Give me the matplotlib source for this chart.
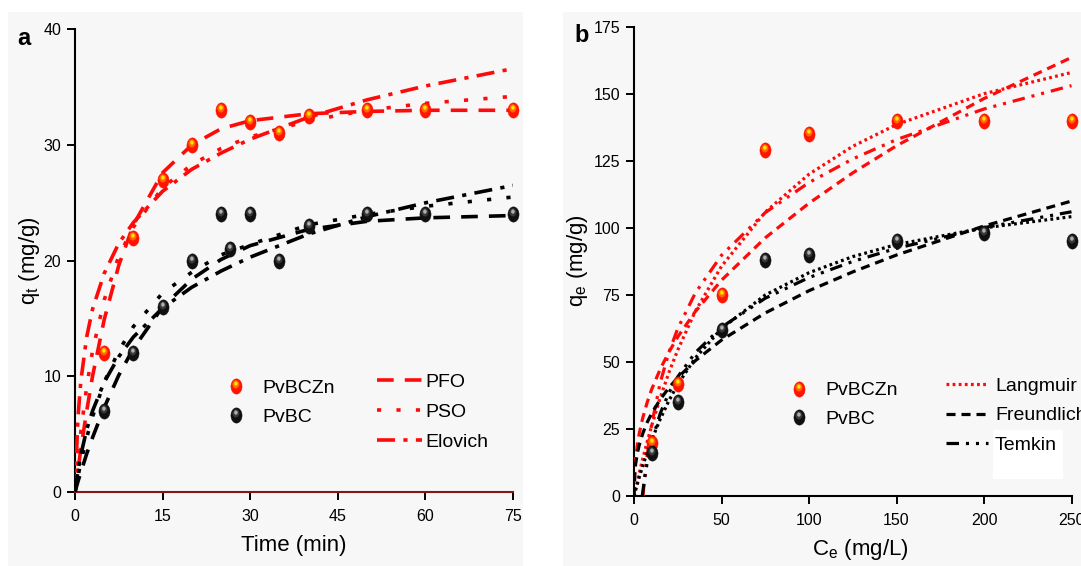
import matplotlib
matplotlib.use("Agg")
import numpy as np
import matplotlib.pyplot as plt
from matplotlib.lines import Line2D
from matplotlib.patches import Rectangle
from matplotlib.path import Path
from matplotlib.legend_handler import HandlerTuple
from matplotlib import font_manager

# ---------------- data: panel a (kinetics) ----------------
t_zn = [5, 10, 15, 20, 25, 30, 35, 40, 50, 60, 75]
q_zn = [12, 22, 27, 30, 33, 32, 31, 32.5, 33, 33, 33]
t_bc = [5, 10, 15, 20, 25, 26.5, 30, 35, 40, 50, 60, 75]
q_bc = [7, 12, 16, 20, 24, 21, 24, 20, 23, 24, 24, 24]
t_fit = [0, 0.5, 1, 2, 3, 5, 7.5, 10, 15, 20, 25, 30, 40, 50, 60, 75]
pfo_zn = [0, 1.9, 3.7, 7.0, 10.0, 14.9, 19.6, 23.1, 27.6, 30.0, 31.4, 32.1, 32.7, 32.9, 33.0, 33.0]
pso_zn = [0, 2.8, 5.2, 9.1, 12.2, 16.6, 20.4, 22.9, 26.3, 28.3, 29.7, 30.7, 32.1, 33.0, 33.6, 34.2]
elo_zn = [0, 6.4, 9.6, 13.4, 15.8, 18.9, 21.5, 23.3, 26.0, 27.9, 29.3, 30.5, 32.4, 33.9, 35.1, 36.6]
pfo_bc = [0, 0.9, 1.7, 3.3, 4.7, 7.3, 10.1, 12.4, 16.0, 18.4, 20.1, 21.3, 22.7, 23.4, 23.7, 23.9]
pso_bc = [0, 1.3, 2.6, 4.7, 6.5, 9.5, 12.2, 14.3, 17.2, 19.0, 20.5, 21.4, 23.1, 24.0, 24.7, 25.5]
elo_bc = [0, 1.8, 3.2, 5.4, 7.0, 9.5, 11.7, 13.4, 15.9, 17.7, 19.1, 20.3, 22.3, 23.8, 25.0, 26.5]
xticks_a = [0, 15, 30, 45, 60, 75]
yticks_a = [0, 10, 20, 30, 40]

# ---------------- data: panel b (isotherms) ----------------
c_obs = [10, 25, 50, 75, 100, 150, 200, 250]
qe_zn = [20, 42, 75, 129, 135, 140, 140, 140]
qe_bc = [16, 35, 62, 88, 90, 95, 98, 95]
c_fit = [0, 0.5, 1, 2, 3, 5, 7.5, 10, 15, 20, 25, 35, 50, 75, 100, 125, 150, 200, 250]
lang_zn = [0, 1.5, 3.0, 5.8, 8.6, 14.0, 20.2, 26.1, 36.7, 46.2, 54.5, 68.9, 85.7, 105.9, 120.0, 130.4, 138.5, 150.0, 157.9]
freu_zn = [0, 10.6, 14.4, 19.5, 23.4, 29.2, 34.9, 39.7, 47.4, 53.8, 59.4, 68.8, 80.5, 96.3, 109.2, 120.5, 130.6, 148.2, 163.5]
lang_bc = [0, 1.2, 2.5, 4.8, 7.1, 11.4, 16.3, 20.8, 28.8, 35.7, 41.7, 51.5, 62.5, 75.0, 83.3, 89.3, 93.8, 100.0, 104.2]
freu_bc = [0, 9.4, 12.4, 16.3, 19.1, 23.4, 27.5, 30.8, 36.1, 40.5, 44.2, 50.5, 58.2, 68.3, 76.6, 83.6, 89.9, 100.7, 110.0]
c_tem_zn = [5.1, 6, 7.5, 10, 15, 20, 25, 35, 50, 75, 100, 125, 150, 200, 250]
tem_zn = [0, 6.4, 15.1, 26.4, 42.4, 53.7, 62.5, 75.7, 89.8, 105.7, 116.9, 125.7, 132.9, 144.3, 153.0]
c_tem_bc = [4.7, 6, 7.5, 10, 15, 20, 25, 35, 50, 75, 100, 125, 150, 200, 250]
tem_bc = [0, 6.4, 12.4, 20.1, 30.9, 38.6, 44.5, 53.5, 63.0, 73.8, 81.5, 87.5, 92.4, 100.1, 106.0]
xticks_b = [0, 50, 100, 150, 200, 250]
yticks_b = [0, 25, 50, 75, 100, 125, 150, 175]

# ---------------- fonts ----------------
names = {f.name for f in font_manager.fontManager.ttflist}
MAIN = 'Liberation Sans Narrow' if 'Liberation Sans Narrow' in names else 'Liberation Sans'
plt.rcParams['font.family'] = [MAIN, 'DejaVu Sans']
plt.rcParams['mathtext.fontset'] = 'custom'
plt.rcParams['mathtext.rm'] = MAIN
plt.rcParams['mathtext.it'] = MAIN + ':italic'
plt.rcParams['mathtext.bf'] = MAIN + ':bold'
plt.rcParams['lines.scale_dashes'] = False

W, H = 1081, 566
fig = plt.figure(figsize=(W / 100, H / 100), dpi=100, facecolor='white')

def px_rect(x0, y0, x1, y1, color):
    fig.add_artist(Rectangle((x0 / W, 1 - y1 / H), (x1 - x0) / W, (y1 - y0) / H,
                             transform=fig.transFigure, facecolor=color,
                             edgecolor='none', zorder=-10))

px_rect(8, 12, 523, 566, '#f7f7f7')
px_rect(563, 12, 1081, 566, '#f7f7f7')

# ---------------- sphere markers ----------------
def ellipse(cx, cy, rx, ry, n=64):
    th = np.linspace(0, 2 * np.pi, n)
    return np.column_stack([cx + rx * np.cos(th), cy + ry * np.sin(th)])

def marker_path(cx, cy, rx, ry):
    v = ellipse(cx, cy, rx, ry)
    verts = np.vstack([[[0.0, 1.0]], [[0.0, -1.0]], v])
    codes = [Path.MOVETO, Path.MOVETO, Path.MOVETO] + [Path.LINETO] * (len(v) - 2) + [Path.CLOSEPOLY]
    return Path(verts, codes)

M_BASE = marker_path(0, 0, 0.73, 1.0)
M_MID = marker_path(-0.08, 0.28, 0.42, 0.5)
M_TOP = marker_path(-0.08, 0.38, 0.2, 0.24)
MS = 11

RED_LAYERS = [(M_BASE, '#ff1400'), (M_MID, '#ff6a00'), (M_TOP, '#ffe600')]
BLK_LAYERS = [(M_BASE, '#101010'), (M_MID, '#3a3a3a'), (M_TOP, '#b0b0b0')]

def spheres(ax, x, y, layers):
    for i, (m, c) in enumerate(layers):
        ax.plot(x, y, ls='none', marker=m, ms=MS, mfc=c, mec=c, mew=0.3,
                zorder=5 + i, clip_on=False)

def sphere_handle(layers):
    return tuple(Line2D([], [], ls='none', marker=m, ms=MS, mfc=c, mec=c, mew=0.3)
                 for m, c in layers)

RED = '#ff0a0a'
LW = 2.6
LS_PFO = (0, (12, 8))
LS_PSO = (0, (3, 11))
LS_ELO = (0, (13, 6, 3, 6))
LS_LANG = (0, (2, 2.4))
LS_FREU = (0, (6.5, 4.3))
LS_TEM = (0, (9, 5, 2.2, 5, 2.2, 5))

TICK_FS = 11.5
def style_axes(ax, bottom_color='black'):
    ax.set_facecolor('none')
    for s in ('top', 'right'):
        ax.spines[s].set_visible(False)
    ax.spines['left'].set_linewidth(1.5)
    ax.spines['bottom'].set_linewidth(1.5)
    ax.spines['bottom'].set_color(bottom_color)
    ax.tick_params(axis='both', direction='out', length=5.5, width=1.4, labelsize=TICK_FS, colors='black')
    ax.tick_params(axis='x', pad=6.5)
    ax.tick_params(axis='y', pad=4.5)

LEG_FS = 14
TUP = {tuple: HandlerTuple(ndivide=1, pad=0)}

# ---------------- panel a ----------------
axa = fig.add_axes([75 / W, 1 - 492 / H, 438 / W, 462.7 / H])
style_axes(axa, bottom_color='#861616')
axa.set_xlim(0, 75)
axa.set_ylim(0, 40)
axa.set_xticks(xticks_a)
axa.set_yticks(yticks_a)

axa.plot(t_fit, pfo_zn, color=RED, lw=LW, ls=LS_PFO, zorder=3)
axa.plot(t_fit, pso_zn, color=RED, lw=LW, ls=LS_PSO, zorder=3)
axa.plot(t_fit, elo_zn, color=RED, lw=LW, ls=LS_ELO, zorder=3)
axa.plot(t_fit, pfo_bc, color='black', lw=LW, ls=LS_PFO, zorder=3)
axa.plot(t_fit, pso_bc, color='black', lw=LW, ls=LS_PSO, zorder=3)
axa.plot(t_fit, elo_bc, color='black', lw=LW, ls=LS_ELO, zorder=3)
spheres(axa, t_zn, q_zn, RED_LAYERS)
spheres(axa, t_bc, q_bc, BLK_LAYERS)

leg1 = axa.legend([sphere_handle(RED_LAYERS), sphere_handle(BLK_LAYERS)], ['PvBCZn', 'PvBC'],
                  handler_map=TUP, loc='upper left', bbox_to_anchor=(0.345, 0.243), frameon=False,
                  borderpad=0, borderaxespad=0, handlelength=1.0, handletextpad=0.86,
                  labelspacing=0.58, fontsize=LEG_FS)
axa.add_artist(leg1)
h_lines_a = [Line2D([], [], color=RED, lw=LW, ls=LS_PFO),
             Line2D([], [], color=RED, lw=LW, ls=LS_PSO),
             Line2D([], [], color=RED, lw=LW, ls=LS_ELO)]
axa.legend(h_lines_a, ['PFO', 'PSO', 'Elovich'], loc='upper left', bbox_to_anchor=(0.6895, 0.256),
           frameon=False, borderpad=0, borderaxespad=0, handlelength=2.32, handletextpad=0.15,
           labelspacing=0.64, fontsize=LEG_FS)

# ---------------- panel b ----------------
axb = fig.add_axes([634 / W, 1 - 496.3 / H, 437.5 / W, 469.7 / H])
style_axes(axb)
axb.set_xlim(0, 250)
axb.set_ylim(0, 175)
axb.set_xticks(xticks_b)
axb.set_yticks(yticks_b)

axb.plot(c_fit, lang_zn, color=RED, lw=2.3, ls=LS_LANG, zorder=3)
axb.plot(c_fit, freu_zn, color=RED, lw=2.3, ls=LS_FREU, zorder=3)
axb.plot(c_tem_zn, tem_zn, color=RED, lw=2.3, ls=LS_TEM, zorder=3)
axb.plot(c_fit, lang_bc, color='black', lw=2.3, ls=LS_LANG, zorder=3)
axb.plot(c_fit, freu_bc, color='black', lw=2.3, ls=LS_FREU, zorder=3)
axb.plot(c_tem_bc, tem_bc, color='black', lw=2.3, ls=LS_TEM, zorder=3)
spheres(axb, c_obs, qe_zn, RED_LAYERS)
spheres(axb, c_obs, qe_bc, BLK_LAYERS)

px_rect(993, 430, 1063, 479, 'white')

leg2 = axb.legend([sphere_handle(RED_LAYERS), sphere_handle(BLK_LAYERS)], ['PvBCZn', 'PvBC'],
                  handler_map=TUP, loc='upper left', bbox_to_anchor=(0.354, 0.2438), frameon=False,
                  borderpad=0, borderaxespad=0, handlelength=1.0, handletextpad=0.9,
                  labelspacing=0.58, fontsize=LEG_FS)
axb.add_artist(leg2)
h_lines_b = [Line2D([], [], color=RED, lw=2.3, ls=LS_LANG),
             Line2D([], [], color='black', lw=2.3, ls=LS_FREU),
             Line2D([], [], color='black', lw=2.3, ls=LS_TEM)]
axb.legend(h_lines_b, ['Langmuir', 'Freundlich', 'Temkin'], loc='upper left',
           bbox_to_anchor=(0.712, 0.253), frameon=False, borderpad=0, borderaxespad=0,
           handlelength=2.19, handletextpad=0.36, labelspacing=0.6, fontsize=LEG_FS)

# ---------------- labels ----------------
LAB_FS = 16
def ftext(x, y, s, **kw):
    fig.text(x / W, 1 - y / H, s, **kw)

ftext(294, 545, 'Time (min)', ha='center', va='center', fontsize=LAB_FS)
ftext(29, 261, r'q$_\mathrm{t}$ (mg/g)', ha='center', va='center', rotation=90, fontsize=LAB_FS)
ftext(860, 550, r'C$_\mathrm{e}$ (mg/L)', ha='center', va='center', fontsize=LAB_FS)
ftext(577, 261, r'q$_\mathrm{e}$ (mg/g)', ha='center', va='center', rotation=90, fontsize=LAB_FS)
ftext(24, 45, 'a', ha='center', va='baseline', fontsize=17, fontweight='bold')
ftext(582, 41.5, 'b', ha='center', va='baseline', fontsize=17, fontweight='bold')

fig.savefig('out.png', dpi=100, facecolor='white')
